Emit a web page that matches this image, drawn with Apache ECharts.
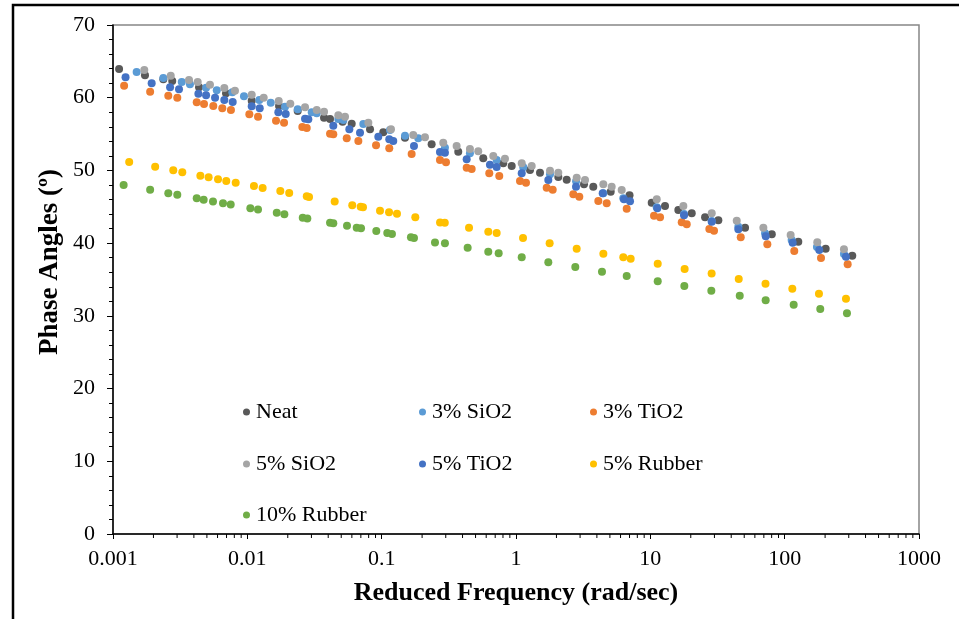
<!DOCTYPE html>
<html>
<head>
<meta charset="utf-8">
<script src="https://cdn.jsdelivr.net/npm/echarts@6/dist/echarts.min.js"></script>
<style>
  html, body { margin: 0; padding: 0; background: #fff; }
  #chart { width: 959px; height: 619px; }
</style>
</head>
<body>
<div id="chart"></div>
<script>
// Phase angle master curves vs. reduced frequency, [frequency (rad/sec), phase angle (deg)]
const neat = [
  [0.00111, 63.95], [0.00173, 63.09], [0.00237, 62.54], [0.00276, 62.30], [0.00437, 61.44],
  [0.00694, 60.61], [0.01078, 59.59], [0.01722, 58.86], [0.02371, 58.18], [0.03724, 57.26],
  [0.04128, 57.08], [0.05117, 56.71], [0.05984, 56.43], [0.0819, 55.66], [0.1028, 55.25],
  [0.1491, 54.51], [0.2355, 53.60], [0.3717, 52.58], [0.5706, 51.67], [0.8037, 50.98],
  [0.9287, 50.61], [1.271, 50.06], [1.509, 49.69], [2.065, 49.10], [2.385, 48.73],
  [3.208, 48.09], [3.761, 47.77], [5.07, 47.08], [7.0, 46.6], [10.24, 45.57],
  [12.86, 45.11], [16.16, 44.56], [20.33, 44.11], [25.55, 43.56], [32.08, 43.14],
  [50.7, 42.13], [80.2, 41.22], [126.3, 40.20], [201.9, 39.24], [318.6, 38.28]
];
const sio2_3 = [
  [0.00150, 63.54], [0.00237, 62.71], [0.00325, 62.17], [0.00374, 61.85], [0.00493, 61.38],
  [0.00592, 61.02], [0.00773, 60.75], [0.00944, 60.20], [0.01228, 59.69], [0.01494, 59.32],
  [0.01908, 58.77], [0.02371, 58.41], [0.03015, 58.00], [0.03285, 57.86], [0.04757, 57.08],
  [0.05188, 56.94], [0.0730, 56.39], [0.1153, 55.56], [0.1491, 54.78], [0.1873, 54.42],
  [0.2958, 53.13], [0.454, 52.36], [0.7178, 51.44], [1.133, 50.43], [1.791, 49.47],
  [2.80, 48.50], [4.467, 46.86], [6.29, 46.17], [11.16, 44.93], [17.82, 44.01],
  [28.64, 43.05], [45.2, 42.26], [71.4, 41.36], [112.7, 40.43], [173.9, 39.47], [276.3, 38.51]
];
const tio2_3 = [
  [0.00121, 61.66], [0.00189, 60.83], [0.00258, 60.28], [0.00301, 60.01], [0.00420, 59.37],
  [0.00476, 59.14], [0.00558, 58.86], [0.00651, 58.55], [0.00755, 58.31], [0.01035, 57.72],
  [0.01201, 57.39], [0.01635, 56.84], [0.01876, 56.57], [0.02567, 55.98], [0.02768, 55.84],
  [0.04128, 55.05], [0.04366, 54.97], [0.05495, 54.42], [0.06705, 54.05], [0.0908, 53.46],
  [0.1139, 53.05], [0.1672, 52.26], [0.2716, 51.44], [0.3011, 51.12], [0.4294, 50.38],
  [0.4677, 50.20], [0.6324, 49.61], [0.7507, 49.24], [1.071, 48.55], [1.187, 48.32],
  [1.692, 47.63], [1.876, 47.35], [2.671, 46.72], [2.960, 46.39], [4.100, 45.80],
  [4.733, 45.48], [6.67, 44.74], [10.65, 43.78], [11.81, 43.56], [17.13, 42.87],
  [18.66, 42.59], [27.49, 41.95], [29.79, 41.71], [47.1, 40.81], [74.3, 39.84],
  [117.9, 38.92], [186.4, 37.96], [294.4, 37.09]
];
const sio2_5 = [
  [0.00171, 63.82], [0.00269, 63.03], [0.00368, 62.44], [0.00427, 62.17], [0.00527, 61.79],
  [0.00674, 61.34], [0.00809, 60.97], [0.01078, 60.42], [0.01324, 60.01], [0.01713, 59.55],
  [0.02089, 59.18], [0.02689, 58.68], [0.03285, 58.31], [0.03724, 58.08], [0.04757, 57.58],
  [0.05336, 57.39], [0.0796, 56.57], [0.1173, 55.66], [0.1719, 54.88], [0.2101, 54.56],
  [0.2874, 53.82], [0.3615, 53.36], [0.454, 52.95], [0.5236, 52.63], [0.6776, 51.99],
  [0.8277, 51.62], [1.103, 50.98], [1.309, 50.61], [1.791, 49.97], [2.065, 49.69],
  [2.831, 49.00], [3.264, 48.69], [4.467, 48.09], [5.156, 47.77], [6.12, 47.31],
  [11.16, 46.03], [17.61, 45.11], [28.64, 44.11], [43.97, 43.09], [69.4, 42.13],
  [110.8, 41.12], [174.9, 40.12], [276.3, 39.16]
];
const tio2_5 = [
  [0.00124, 62.81], [0.00194, 61.99], [0.00266, 61.44], [0.00310, 61.16], [0.00432, 60.56],
  [0.00493, 60.34], [0.00575, 60.01], [0.00674, 59.69], [0.00778, 59.41], [0.01078, 58.82],
  [0.01237, 58.55], [0.01701, 58.00], [0.01931, 57.76], [0.02689, 57.12], [0.02845, 57.03],
  [0.04366, 56.16], [0.05745, 55.66], [0.0690, 55.19], [0.0944, 54.64], [0.1139, 54.28],
  [0.1220, 54.05], [0.1740, 53.36], [0.2716, 52.54], [0.2958, 52.44], [0.4294, 51.53],
  [0.6397, 50.79], [0.7178, 50.47], [1.103, 49.61], [1.740, 48.69], [2.797, 47.77],
  [4.420, 46.86], [6.368, 46.03], [7.06, 45.76], [11.27, 44.80], [17.82, 43.83],
  [28.64, 42.95], [45.2, 41.91], [72.3, 40.94], [114.7, 40.06], [181.0, 39.06], [285.9, 38.14]
];
const rubber_5 = [
  [0.00132, 51.16], [0.00206, 50.51], [0.00281, 50.02], [0.00328, 49.74], [0.00447, 49.28],
  [0.00515, 49.06], [0.00605, 48.79], [0.00697, 48.56], [0.00819, 48.32], [0.0112, 47.87],
  [0.0130, 47.59], [0.0176, 47.18], [0.0205, 46.91], [0.0277, 46.45], [0.0288, 46.35],
  [0.0447, 45.72], [0.0604, 45.22], [0.0698, 44.99], [0.0726, 44.95], [0.0972, 44.47],
  [0.1135, 44.24], [0.130, 44.05], [0.178, 43.56], [0.272, 42.85], [0.295, 42.80],
  [0.447, 42.13], [0.622, 41.58], [0.718, 41.40], [1.128, 40.71], [1.78, 39.98],
  [2.83, 39.24], [4.47, 38.55], [6.29, 38.06], [7.14, 37.87], [11.35, 37.18],
  [18.0, 36.45], [28.6, 35.81], [45.5, 35.07], [72.0, 34.40], [114, 33.74], [180, 33.05], [286, 32.36]
];
const rubber_10 = [
  [0.00120, 48.00], [0.00189, 47.36], [0.00258, 46.86], [0.00301, 46.67], [0.00420, 46.17],
  [0.00473, 45.98], [0.00555, 45.71], [0.00659, 45.49], [0.00752, 45.30], [0.01053, 44.80],
  [0.01201, 44.62], [0.01656, 44.17], [0.01886, 43.99], [0.02585, 43.49], [0.02797, 43.39],
  [0.04128, 42.80], [0.04366, 42.72], [0.0552, 42.40], [0.0652, 42.13], [0.0702, 42.04],
  [0.0912, 41.67], [0.1101, 41.40], [0.1193, 41.26], [0.1652, 40.80], [0.1740, 40.71],
  [0.2494, 40.10], [0.2958, 40.00], [0.4366, 39.38], [0.6218, 38.83], [0.743, 38.61],
  [1.103, 38.06], [1.740, 37.37], [2.763, 36.72], [4.366, 36.08], [6.67, 35.48],
  [11.35, 34.76], [17.91, 34.11], [28.45, 33.47], [46.3, 32.78], [72.2, 32.15],
  [116.7, 31.54], [184.1, 30.94], [290.9, 30.35]
];

const seriesNames = ['Neat', '3% SiO2', '3% TiO2', '5% SiO2', '5% TiO2', '5% Rubber', '10% Rubber'];
const seriesData = [neat, sio2_3, tio2_3, sio2_5, tio2_5, rubber_5, rubber_10];
const seriesColors = ['#595959', '#5B9BD5', '#ED7D31', '#A5A5A5', '#4472C4', '#FFC000', '#70AD47'];

const xMin = 0.001, xMax = 1000;
const yMin = 0, yMax = 70, yStep = 10;

// minor tick positions between decades (2..9 x 10^n)
const xMinorTicks = [];
for (let d = xMin; d < xMax; d *= 10) {
  for (let k = 2; k <= 9; k++) xMinorTicks.push([+(d * k).toPrecision(3)]);
}

const FONT = "'Liberation Serif', 'Times New Roman', serif";

const chart = echarts.init(document.getElementById('chart'), null, { renderer: 'canvas' });

// legend laid out as a 3-column block inside the plot area
const legendCols = [243, 419, 590];
const legendRows = [401, 453, 504];
const legends = seriesNames.map((name, i) => ({
  data: [name],
  left: legendCols[i % 3],
  top: legendRows[Math.floor(i / 3)],
  padding: 0,
  icon: 'circle',
  itemWidth: 7,
  itemHeight: 7,
  itemGap: 0,
  selectedMode: false,
  textStyle: { fontFamily: FONT, fontSize: 22, color: '#000', padding: [0, 0, 0, 1] }
}));

const scatterSeries = seriesNames.map((name, i) => ({
  name: name,
  type: 'scatter',
  data: seriesData[i],
  symbol: 'circle',
  symbolSize: 8,
  itemStyle: { color: seriesColors[i], opacity: 1 },
  emphasis: { disabled: true },
  z: 3 + i
}));

const option = {
  animation: false,
  backgroundColor: '#fff',
  graphic: [
    {
      type: 'rect',
      shape: { x: 13, y: 5, width: 1000, height: 700 },
      style: { fill: 'none', stroke: '#000', lineWidth: 2.5 },
      silent: true
    },
    {
      // vertical axis title
      type: 'text',
      x: 50,
      y: 262,
      rotation: Math.PI / 2,
      silent: true,
      style: {
        text: 'Phase Angles (º)',
        font: "bold 27px 'Liberation Serif', 'Times New Roman', serif",
        fill: '#000',
        textAlign: 'center',
        textVerticalAlign: 'middle'
      }
    }
  ],
  legend: legends,
  grid: {
    left: 113, right: 40, top: 25, bottom: 85,
    show: true, borderColor: '#878787', borderWidth: 1.5, backgroundColor: 'transparent'
  },
  xAxis: {
    type: 'log',
    logBase: 10,
    min: xMin,
    max: xMax,
    name: 'Reduced Frequency (rad/sec)',
    nameLocation: 'middle',
    nameGap: 46,
    nameTextStyle: { fontFamily: FONT, fontSize: 26, fontWeight: 'bold', color: '#000' },
    axisLine: { show: true, lineStyle: { color: '#000', width: 1.5 } },
    axisTick: { show: true, length: 5, lineStyle: { color: '#000', width: 1 } },
    axisLabel: {
      fontFamily: FONT, fontSize: 22, color: '#000', margin: 14,
      formatter: v => String(+v.toPrecision(3))
    },
    splitLine: { show: false }
  },
  yAxis: {
    type: 'value',
    min: yMin,
    max: yMax,
    interval: yStep,
    axisLine: { show: true, lineStyle: { color: '#000', width: 1.5 } },
    axisTick: { show: true, length: 6, lineStyle: { color: '#000', width: 1 } },
    minorTick: { show: true, splitNumber: 5, length: 4, lineStyle: { color: '#000', width: 1 } },
    axisLabel: { fontFamily: FONT, fontSize: 22, color: '#000', margin: 18 },
    splitLine: { show: false }
  },
  series: [
    {
      name: 'xMinorTicks',
      type: 'custom',
      data: xMinorTicks,
      silent: true,
      clip: false,
      z: 10,
      renderItem: (params, api) => {
        const p = api.coord([api.value(0), yMin]);
        return {
          type: 'line',
          shape: { x1: p[0], y1: p[1], x2: p[0], y2: p[1] + 4 },
          style: { stroke: '#000', lineWidth: 1 }
        };
      }
    }
  ].concat(scatterSeries)
};

chart.setOption(option);
</script>
</body>
</html>
